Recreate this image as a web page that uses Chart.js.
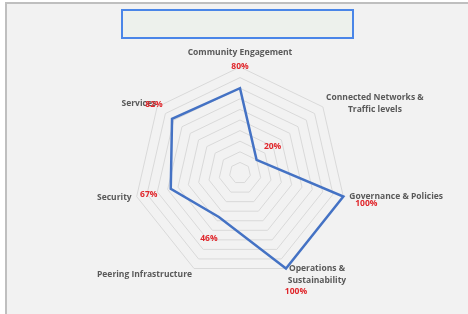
<!DOCTYPE html>
<html lang="en">
<head>
    <meta charset="UTF-8">
    <title>Radar</title>
    <script src="https://cdn.jsdelivr.net/npm/chart.js"></script>
    <style>
        html, body { margin: 0; padding: 0; background: #fff; }
        #frame { position: absolute; left: 5px; top: 2px; width: 470px; height: 310px;
                 border-left: 2px solid #bfbfbf; border-top: 2px solid #bfbfbf; background: #f2f2f2; }
        #titleBox { position: absolute; left: 121px; top: 9px; width: 229px; height: 26px;
                    border: 2px solid #4a86e8; background: #edf1ec; }
        #wrap { position: absolute; left: 0; top: 0; width: 468px; height: 314px; }
    </style>
</head>
<body>
    <div id="frame"></div>
    <div id="titleBox"></div>
    <div id="wrap"><canvas id="radarChart" width="468" height="314"></canvas></div>
    <script>
        const categories = [
            ['Community Engagement'],
            ['Connected Networks &', 'Traffic levels'],
            ['Governance & Policies'],
            ['Operations &', 'Sustainability'],
            ['Peering Infrastructure'],
            ['Security'],
            ['Services']
        ];
        const scores = [0.80, 0.20, 1.00, 1.00, 0.46, 0.67, 0.82];
        const scaleMax = 1;
        const scaleStep = 0.1;

        // where Excel left the axis names and the red value labels, relative to the scale
        const nameOffsets = [[0, -14, 'center'], [52, -9, 'center'], [6, 0, 'left'], [31, 0, 'center'],
                             [-2, 6, 'right'], [-5, 1, 'right'], [-1, -3, 'right']];
        const valueOffsets = [[0, -22], [16, -13], [23, 7], [10, 23], [-10, 22], [-22, 6], [-18, -14]];

        const labelPlugin = {
            id: 'labelPlugin',
            afterDatasetsDraw(chart) {
                const ctx = chart.ctx;
                const r = chart.scales.r;
                ctx.save();
                ctx.textBaseline = 'middle';
                ctx.font = 'bold 8.5px "Open Sans"';
                ctx.fillStyle = '#595959';
                categories.forEach((lines, i) => {
                    const p = r.getPointPosition(i, r.getDistanceFromCenterForValue(scaleMax));
                    const [dx, dy, align] = nameOffsets[i];
                    ctx.textAlign = align;
                    lines.forEach((t, k) => ctx.fillText(t, p.x + dx, p.y + dy + k * 12));
                });
                ctx.font = 'bold 8.5px "Open Sans"';
                ctx.fillStyle = '#e0262b';
                ctx.textAlign = 'center';
                scores.forEach((v, i) => {
                    const p = r.getPointPosition(i, r.getDistanceFromCenterForValue(v));
                    const [dx, dy] = valueOffsets[i];
                    ctx.fillText(Math.round(v * 100) + '%', p.x + dx, p.y + dy);
                });
                ctx.restore();
            }
        };

        const ctx = document.getElementById('radarChart').getContext('2d');
        new Chart(ctx, {
            type: 'radar',
            data: {
                labels: categories,
                datasets: [{
                    data: scores,
                    borderColor: '#4472c4',
                    borderWidth: 2.5,
                    fill: false,
                    pointRadius: 0,
                    tension: 0
                }]
            },
            options: {
                responsive: false,
                animation: false,
                layout: { padding: { left: 90, right: 78, top: 67, bottom: 35 } },
                plugins: { legend: { display: false }, tooltip: { enabled: false } },
                scales: {
                    r: {
                        min: 0,
                        max: scaleMax,
                        ticks: { display: false, stepSize: scaleStep },
                        grid: { color: '#d9d9d9', lineWidth: 1 },
                        angleLines: { display: false },
                        pointLabels: { display: false }
                    }
                }
            },
            plugins: [labelPlugin]
        });
    </script>
</body>
</html>
